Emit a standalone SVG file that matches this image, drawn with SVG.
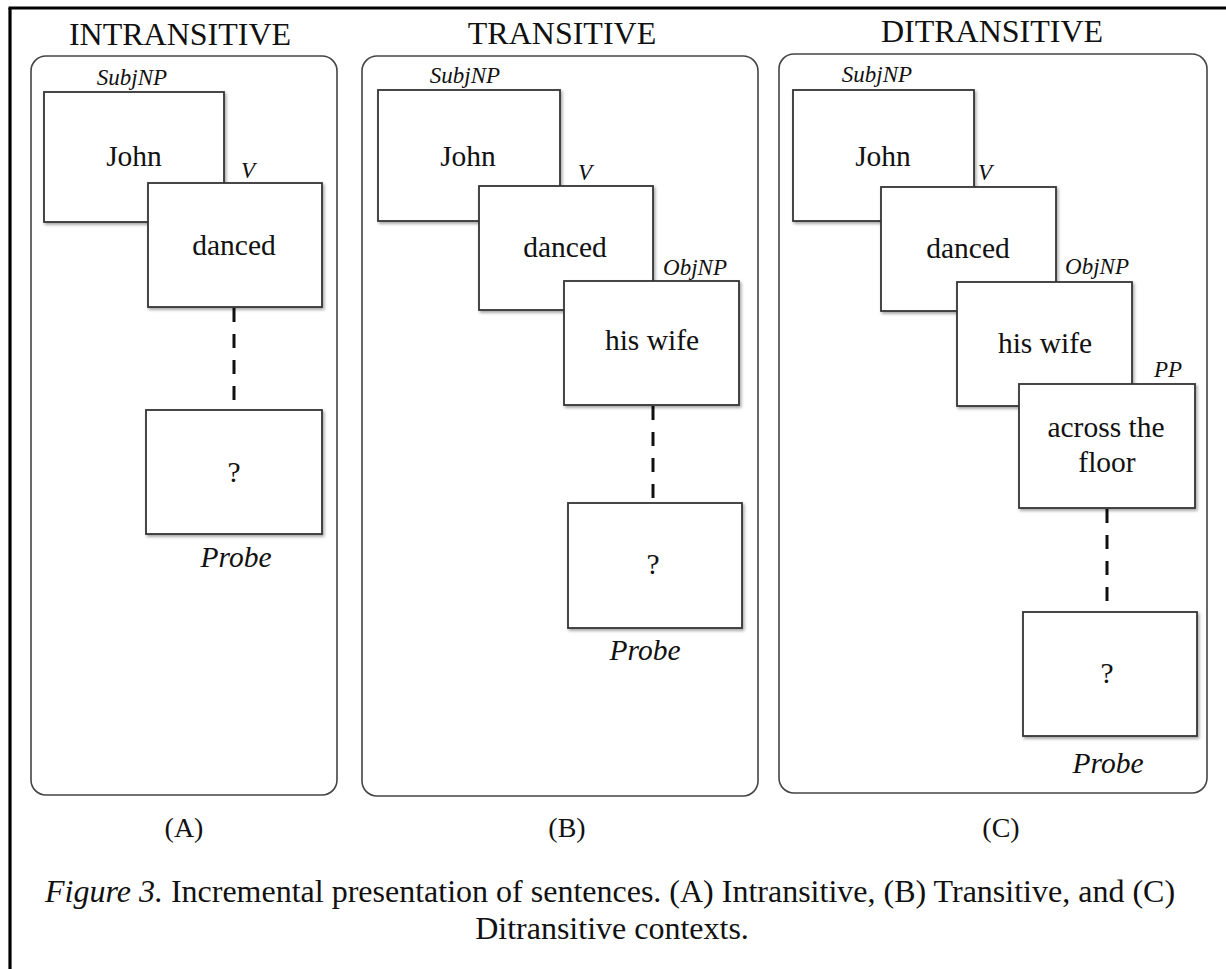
<svg xmlns="http://www.w3.org/2000/svg" width="1226" height="969" viewBox="0 0 1226 969">
<style>
text{font-family:"Liberation Serif","Times New Roman",serif;fill:#111}
.title{font-size:32px;text-anchor:middle}
.word{font-size:29.5px;text-anchor:middle}
.lab{font-size:23px;font-style:italic;text-anchor:middle}
.probe{font-size:29.5px;font-style:italic;text-anchor:middle}
.panel{fill:none;stroke:#444;stroke-width:1.6}
.box{fill:#fff;stroke:#333;stroke-width:1.8;filter:url(#sh)}
.dash{stroke:#111;stroke-width:3;stroke-dasharray:14 12;fill:none}
.cap{font-size:28px;text-anchor:middle}
.caption{font-size:32px;text-anchor:middle}
</style>
<defs>
<filter id="sh" x="-10%" y="-10%" width="130%" height="130%">
<feDropShadow dx="1.5" dy="2" stdDeviation="1.5" flood-color="#000" flood-opacity="0.35"/>
</filter>
</defs>
<rect width="1226" height="969" fill="#fff"/>
<g id="frame" fill="none" stroke="#000" stroke-width="3.2">
<line x1="8.5" y1="8" x2="1226" y2="8"/>
<line x1="10" y1="8" x2="10" y2="969"/>
</g>

<g id="panelA">
<text class="title" x="180" y="45">INTRANSITIVE</text>
<rect class="panel" x="31" y="56" width="306" height="739" rx="15"/>
<text class="cap" x="184" y="837">(A)</text>
</g>
<g id="panelB">
<text class="title" x="562" y="44">TRANSITIVE</text>
<rect class="panel" x="362" y="56" width="396" height="740" rx="15"/>
<text class="cap" x="567" y="837">(B)</text>
</g>
<g id="panelC">
<text class="title" x="992" y="42">DITRANSITIVE</text>
<rect class="panel" x="779" y="54" width="428" height="739" rx="15"/>
<text class="cap" x="1001" y="837">(C)</text>
</g>

<g id="connectors">
<line class="dash" x1="234" y1="308" x2="234" y2="402"/>
<line class="dash" x1="653" y1="406" x2="653" y2="499"/>
<line class="dash" x1="1107" y1="509" x2="1107" y2="603"/>
</g>

<g id="A-subj">
<text class="lab" x="132" y="85">SubjNP</text>
<rect class="box" x="44" y="92" width="180" height="130"/>
<text class="word" x="134" y="166">John</text>
</g>
<g id="A-verb">
<text class="lab" x="248" y="178">V</text>
<rect class="box" x="148" y="183" width="174" height="124"/>
<text class="word" x="234" y="255">danced</text>
</g>
<g id="A-probe">
<rect class="box" x="146" y="410" width="176" height="124"/>
<text class="word" x="234" y="482">?</text>
<text class="probe" x="236" y="567">Probe</text>
</g>

<g id="B-subj">
<text class="lab" x="465" y="83">SubjNP</text>
<rect class="box" x="378" y="90" width="182" height="131"/>
<text class="word" x="468" y="166">John</text>
</g>
<g id="B-verb">
<text class="lab" x="585" y="180">V</text>
<rect class="box" x="479" y="186" width="174" height="124"/>
<text class="word" x="565" y="257">danced</text>
</g>
<g id="B-obj">
<text class="lab" x="695" y="275">ObjNP</text>
<rect class="box" x="564" y="281" width="175" height="124"/>
<text class="word" x="652" y="350">his wife</text>
</g>
<g id="B-probe">
<rect class="box" x="568" y="503" width="174" height="125"/>
<text class="word" x="653" y="574">?</text>
<text class="probe" x="645" y="660">Probe</text>
</g>

<g id="C-subj">
<text class="lab" x="877" y="82">SubjNP</text>
<rect class="box" x="793" y="90" width="181" height="131"/>
<text class="word" x="883" y="166">John</text>
</g>
<g id="C-verb">
<text class="lab" x="985" y="180">V</text>
<rect class="box" x="881" y="187" width="175" height="124"/>
<text class="word" x="968" y="258">danced</text>
</g>
<g id="C-obj">
<text class="lab" x="1097" y="274">ObjNP</text>
<rect class="box" x="957" y="282" width="175" height="124"/>
<text class="word" x="1045" y="353">his wife</text>
</g>
<g id="C-pp">
<text class="lab" x="1168" y="377">PP</text>
<rect class="box" x="1019" y="384" width="176" height="124"/>
<text class="word" x="1106" y="437">across the</text>
<text class="word" x="1107" y="472">floor</text>
</g>
<g id="C-probe">
<rect class="box" x="1023" y="612" width="174" height="124"/>
<text class="word" x="1107" y="683">?</text>
<text class="probe" x="1108" y="773">Probe</text>
</g>

<g id="caption">
<text class="caption" x="610" y="902"><tspan font-style="italic">Figure 3.</tspan> Incremental presentation of sentences. (A) Intransitive, (B) Transitive, and (C)</text>
<text class="caption" x="612" y="939">Ditransitive contexts.</text>
</g>
</svg>
